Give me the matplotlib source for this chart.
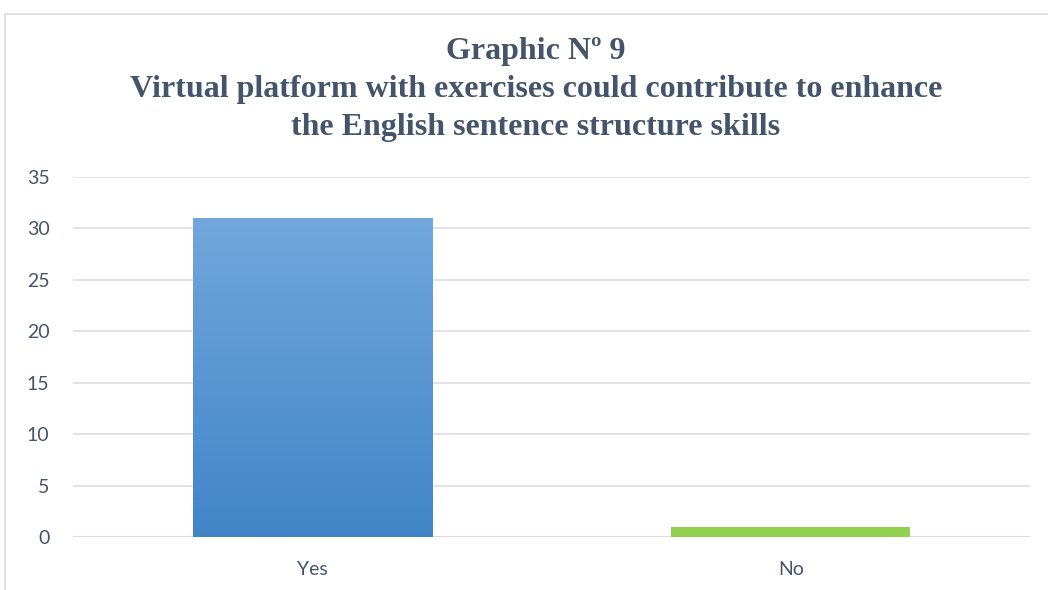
import numpy as np
import matplotlib
matplotlib.use("Agg")
import matplotlib.pyplot as plt
from matplotlib.patches import Rectangle
from matplotlib.colors import LinearSegmentedColormap

categories = ["Yes", "No"]
values = [31, 1]
y_ticks = [0, 5, 10, 15, 20, 25, 30, 35]
title_lines = ["Graphic Nº 9",
               "Virtual platform with exercises could contribute to enhance",
               "the English sentence structure skills"]

W, H = 1048, 590
fig = plt.figure(figsize=(W / 100, H / 100), dpi=100)
fig.patch.set_facecolor("white")

# chart frame (left and top edges visible)
fig.add_artist(Rectangle((5 / W, -0.1), 1.2, 1 - 14 / H + 0.1, transform=fig.transFigure,
                         fill=False, edgecolor="#D9DEE4", linewidth=1.2))

ax = fig.add_axes([73 / W, (H - 537) / H, (1030 - 73) / W, (537 - 177) / H])

for s in ax.spines.values():
    s.set_visible(False)
ax.set_yticks(y_ticks)
ax.yaxis.grid(True, color="#DDE1E6", linewidth=1.3)
ax.set_axisbelow(True)
ax.tick_params(axis="both", length=0, labelsize=14, labelcolor="#44546A")
ax.tick_params(axis="y", pad=17)
ax.tick_params(axis="x", pad=17)
ax.set_xticks(range(len(categories)))
ax.set_xticklabels(categories)
for lab in ax.get_xticklabels() + ax.get_yticklabels():
    lab.set_fontfamily("Lato")

bars = ax.bar(range(len(categories)), values, width=0.5, zorder=3)

# vertical gradient for the first bar, flat green for the second
grad = np.linspace(0, 1, 256).reshape(-1, 1)
cmap = LinearSegmentedColormap.from_list("blue", ["#4185C8", "#71A7DC"])
b0 = bars[0]
b0.set_facecolor("none")
b0.set_edgecolor("none")
x0, w0, h0 = b0.get_x(), b0.get_width(), b0.get_height()
im = ax.imshow(grad, extent=[x0, x0 + w0, 0, h0], origin="lower", cmap=cmap,
               aspect="auto", zorder=3)
im.set_clip_path(b0)
bars[1].set_facecolor("#92D050")
ax.set_xlim(-0.5, len(categories) - 0.5)
ax.set_ylim(0, 35)

# bottom axis line
ax.axhline(0, color="#D9DDE3", linewidth=1.5, zorder=2)

ys = [51, 90, 127]
for t, y in zip(title_lines, ys):
    fig.text(536 / W, 1 - y / H, t, ha="center", va="center", fontsize=23,
             fontweight="bold", family="Liberation Serif", color="#44546A")

fig.savefig("out.png", dpi=100)
